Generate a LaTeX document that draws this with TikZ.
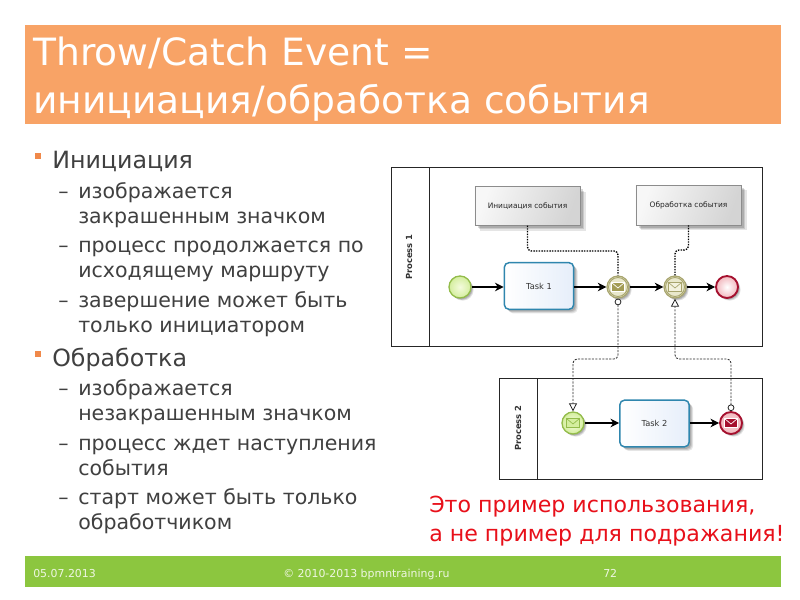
\documentclass[tikz,border=0pt]{standalone}
\usepackage{fontspec}
\setmainfont{DejaVu Sans}
\usetikzlibrary{arrows.meta,shadows,calc}
\definecolor{bannerorange}{HTML}{F8A366}
\definecolor{footgreen}{HTML}{8CC63F}
\definecolor{bodygrey}{HTML}{404040}
\definecolor{redtext}{HTML}{E8101A}
\definecolor{bulletorange}{HTML}{F0894A}
\definecolor{taskline}{HTML}{2F86AE}
\definecolor{taskfill}{HTML}{E6EEFA}
\definecolor{startline}{HTML}{93BC4A}
\definecolor{startin}{HTML}{F4FBDD}
\definecolor{startout}{HTML}{D4EE9E}
\definecolor{endline}{HTML}{A5102E}
\definecolor{endout}{HTML}{F2B8BE}
\definecolor{ringline}{HTML}{A8A56E}
\definecolor{ringfill}{HTML}{E9E8CC}
\definecolor{envolive}{HTML}{A29C55}
\definecolor{envpale}{HTML}{F3F2DF}
\tikzset{
  x=0.75pt,y=-0.75pt,
  softshadow/.style={
    drop shadow={shadow xshift=#1,shadow yshift=-#1,opacity=.10,fill=black},
    drop shadow={shadow xshift=.75*#1,shadow yshift=-.75*#1,opacity=.12,fill=black},
    drop shadow={shadow xshift=.5*#1,shadow yshift=-.5*#1,opacity=.14,fill=black}},
  lone/.style={anchor=base west,text=bodygrey,font=\fontsize{17.8}{20}\selectfont,inner sep=0pt},
  ltwo/.style={anchor=base west,text=bodygrey,font=\fontsize{15.4}{18}\selectfont,inner sep=0pt},
  dashmark/.style={anchor=base west,text=bodygrey,font=\fontsize{15.4}{18}\selectfont,inner sep=0pt},
  bulletbox/.style={fill=bulletorange,minimum size=4.5pt,inner sep=0pt},
  titletext/.style={anchor=base west,text=white,font=\fontsize{28.2}{32}\selectfont,inner sep=0pt},
  foottext/.style={text=white!85!footgreen,font=\fontsize{8.2}{10}\selectfont,inner sep=0pt,anchor=base west},
  redline/.style={anchor=base west,text=redtext,font=\fontsize{16.6}{20}\selectfont,inner sep=0pt},
  pool/.style={draw=black!85,line width=0.7pt},
  poolname/.style={rotate=90,font=\bfseries\fontsize{6.3}{8}\selectfont,text=black!80,inner sep=0pt},
  note/.style={softshadow=4pt,draw=black!45,line width=0.4pt,left color=white!97!black,right color=black!17,shading angle=70,
    minimum width=79pt,minimum height=29pt,inner sep=0pt,font=\fontsize{5.6}{7}\selectfont,text=black!85},
  taskbox/.style={softshadow=3pt,draw=taskline,line width=1.1pt,rounded corners=3.5pt,left color=white,right color=taskfill,
    minimum width=52pt,minimum height=35pt,inner sep=0pt,font=\fontsize{6.2}{8}\selectfont,text=black!80},
  evbase/.style={softshadow=2pt,circle,minimum size=16.5pt,inner sep=0pt},
  startev/.style={evbase,draw=startline,line width=1pt,inner color=startin,outer color=startout},
  endev/.style={evbase,draw=endline,line width=1.4pt,inner color=white,outer color=endout},
  interev/.style={evbase,draw=ringline,line width=0.9pt,fill=ringfill},
  flowline/.style={draw=black,line width=0.85pt,-{Stealth[length=6.5pt,width=6.5pt]}},
  assocline/.style={draw=black,line width=1pt,dash pattern=on 1.1pt off 0.9pt,rounded corners=3pt},
  msgline/.style={draw=black!85,line width=0.6pt,dash pattern=on 1.6pt off 1pt,rounded corners=3pt},
}
\newcommand{\envel}[3]{%
  \begin{scope}[shift={(#1)}]
    \draw[fill=#2,draw=#3,line width=0.4pt] (-6.5,-4.5) rectangle (6.5,4.5);
    \draw[draw=#3,line width=0.5pt] (-6.5,-4.5) -- (0,1) -- (6.5,-4.5);
  \end{scope}}
\begin{document}
\begin{tikzpicture}
\useasboundingbox (0,0) rectangle (800,600);
\fill[white] (0,0) rectangle (800,600);
% banner
\fill[bannerorange] (25,25) rectangle (781,124);
\node[titletext] (t1) at (33,65) {Throw/Catch Event =};
\node[titletext] (t2) at (33,113) {инициация/обработка события};
% footer
\fill[footgreen] (25,556) rectangle (781,587);
\node[foottext] (f1) at (33,577) {05.07.2013};
\node[foottext] (f2) at (283,577) {© 2010-2013 bpmntraining.ru};
\node[foottext] (f3) at (603,577) {72};
% text
\node[bulletbox] (b1) at (38,156) {};
\node[lone] (l1) at (52,168) {Инициация};
\node[dashmark] (d1) at (58,198) {–};
\node[ltwo] (x1) at (78,198) {изображается};
\node[ltwo] (x2) at (78,223) {закрашенным значком};
\node[dashmark] (d2) at (58,252) {–};
\node[ltwo] (x3) at (78,252) {процесс продолжается по};
\node[ltwo] (x4) at (78,277) {исходящему маршруту};
\node[dashmark] (d3) at (58,307) {–};
\node[ltwo] (x5) at (78,307) {завершение может быть};
\node[ltwo] (x6) at (78,332) {только инициатором};
\node[bulletbox] (b2) at (38,354) {};
\node[lone] (l2) at (52,366) {Обработка};
\node[dashmark] (d4) at (58,395) {–};
\node[ltwo] (x7) at (78,395) {изображается};
\node[ltwo] (x8) at (78,420) {незакрашенным значком};
\node[dashmark] (d5) at (58,450) {–};
\node[ltwo] (x9) at (78,450) {процесс ждет наступления};
\node[ltwo] (x10) at (78,475) {события};
\node[dashmark] (d6) at (58,504) {–};
\node[ltwo] (x11) at (78,504) {старт может быть только};
\node[ltwo] (x12) at (78,529) {обработчиком};
% red
\node[redline] (r1) at (429,512) {Это пример использования,};
\node[redline] (r2) at (429,541) {а не пример для подражания!};
% pools
\draw[pool] (391,167) rectangle (762,346);
\draw[pool] (429,167) -- (429,346);
\node[poolname] (p1) at (409,257) {Process 1};
\draw[pool] (499,378) rectangle (762,479);
\draw[pool] (537,378) -- (537,479);
\node[poolname] (p2) at (518,428) {Process 2};
% notes
\node[note] (n1) at (527.5,206) {Инициация события};
\node[note,minimum height=30pt] (n2) at (688.5,205) {Обработка события};
% process 1
\node[startev] (s1) at (460,287) {};
\node[taskbox] (k1) at (539,286) {Task 1};
\node[interev] (e1) at (618,287) {};
\draw[ringline,line width=0.7pt] (e1.center) circle (9.5);
\envel{e1.center}{envolive}{white}
\node[interev] (e2) at (675,287) {};
\draw[ringline,line width=0.7pt] (e2.center) circle (9.5);
\envel{e2.center}{envpale}{ringline}
\node[endev] (e3) at (727,287) {};
\draw[flowline] (s1) -- (s1 -| k1.west);
\draw[flowline] (k1.east |- e1) -- (e1);
\draw[flowline] (e1) -- (e2);
\draw[flowline] (e2) -- (e3);
% process 2
\node[startev] (s2) at (573,423) {};
\envel{s2.center}{startout}{startline}
\node[taskbox] (k2) at (654.5,423.5) {Task 2};
\node[endev,outer color=endout,inner color=endout!60] (e4) at (731,423) {};
\envel{e4.center}{endline}{white}
\draw[flowline] (s2) -- (s2 -| k2.west);
\draw[flowline] (k2.east |- e4) -- (e4);
% associations
\coordinate (c1) at (618,251);
\coordinate (c2) at (675,250);
\draw[assocline] (n1.south) |- (c1) -- (e1.north);
\draw[assocline] (n2.south) |- (c2) -- (e2.north);
% message flows
\coordinate (m1) at (618,359);
\coordinate (m2) at (731,359);
\draw[msgline,{Circle[open,length=5pt,width=5pt,fill=white]}-{Triangle[open,length=6pt,width=6pt,fill=white]}] (e1.south) -- (m1) -| (s2.north);
\draw[msgline,{Circle[open,length=5pt,width=5pt,fill=white]}-{Triangle[open,length=6pt,width=6pt,fill=white]}] (e4.north) -- (m2) -| (e2.south);
\end{tikzpicture}
\end{document}
